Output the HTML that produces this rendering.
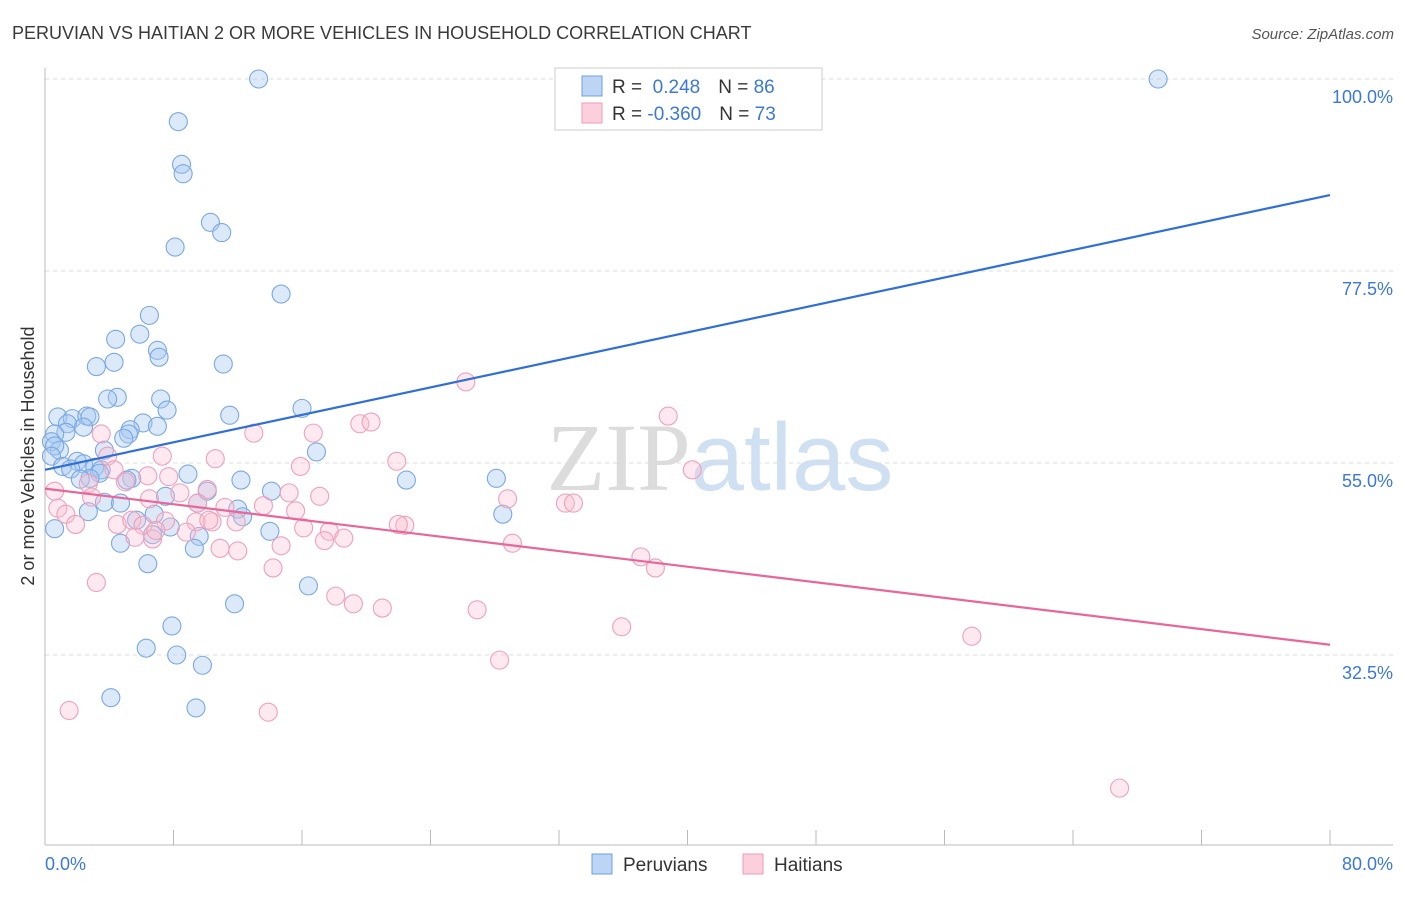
<!DOCTYPE html>
<html><head><meta charset="utf-8"><style>
body{margin:0;background:#fff;font-family:"Liberation Sans",sans-serif;}
svg text{font-family:"Liberation Sans",sans-serif;}
</style></head><body>
<svg id="chart" width="1406" height="892" xmlns="http://www.w3.org/2000/svg">
<text x="12" y="39" font-size="18" fill="#3a3a3a">PERUVIAN VS HAITIAN 2 OR MORE VEHICLES IN HOUSEHOLD CORRELATION CHART</text>
<text x="1394" y="39" font-size="15" fill="#555" text-anchor="end" font-style="italic">Source: ZipAtlas.com</text>
<text x="720" y="490" font-size="96" text-anchor="middle" fill="#e4e4e4"><tspan font-family="Liberation Serif" fill="#dcdcdc">ZIP</tspan><tspan fill="#cfe0f3">atlas</tspan></text>
<g id="grid"></g>
<line x1="45" y1="68" x2="45" y2="845" stroke="#bbb"/>
<line x1="45" y1="845" x2="1393" y2="845" stroke="#bbb"/>
<text transform="translate(34,456) rotate(-90)" font-size="18" fill="#333" text-anchor="middle">2 or more Vehicles in Household</text>
<text x="45" y="870" font-size="18" fill="#3b78d8">0.0%</text>
<text x="1393" y="870" font-size="18" fill="#3b78d8" text-anchor="end">80.0%</text>
<g id="points"></g>
<g id="lines"></g>
<g>
<rect x="555" y="68" width="267" height="62" fill="#fff" stroke="#ccc"/>
<rect x="582" y="76" width="20" height="20" fill="#bcd5f5" stroke="#6fa0e0"/>
<rect x="582" y="103" width="20" height="20" fill="#fbd0dc" stroke="#f09ab5"/>
<text x="612" y="93" font-size="19" fill="#333">R = <tspan fill="#3b78d8">&#160;0.248</tspan><tspan dx="18">N = </tspan><tspan fill="#3b78d8">86</tspan></text>
<text x="612" y="120" font-size="19" fill="#333">R = <tspan fill="#3b78d8">-0.360</tspan><tspan dx="18">N = </tspan><tspan fill="#3b78d8">73</tspan></text>
</g>
<g>
<rect x="592" y="854" width="20" height="20" fill="#bcd5f5" stroke="#6fa0e0"/>
<text x="623" y="871" font-size="19" fill="#333">Peruvians</text>
<rect x="743" y="854" width="20" height="20" fill="#fbd0dc" stroke="#f09ab5"/>
<text x="774" y="871" font-size="19" fill="#333">Haitians</text>
</g>
</svg>
<script>
const yTicks=[100,77.5,55,32.5];
const yTickLabels=["100.0%","77.5%","55.0%","32.5%"];
const xTicks=[0,8,16,24,32,40,48,56,64,72,80];
const peruX=[13.3,69.3,8.3,8.5,8.6,10.3,11.0,8.1,14.7,6.5,5.9,4.4,7.0,7.1,3.2,4.3,11.1,4.5,3.9,7.2,7.6,16.0,11.5,0.8,1.7,2.6,2.8,1.4,6.1,7.0,5.3,5.2,4.9,2.4,1.3,0.6,0.4,0.9,0.6,0.4,3.7,16.9,2.0,2.4,1.1,1.6,3.1,3.5,3.4,2.8,2.2,5.4,5.1,8.9,12.2,22.5,28.1,14.1,10.1,7.5,3.7,4.7,9.5,2.7,6.8,12.0,12.3,5.7,7.8,9.6,14.0,28.5,0.6,6.7,4.7,9.3,6.4,16.4,11.8,7.9,6.3,8.2,9.8,4.1,9.4];
const peruY=[100,100,95.0,90.0,88.9,83.2,82.0,80.3,74.8,72.3,70.1,69.5,68.2,67.4,66.3,66.8,66.6,62.7,62.5,62.5,61.2,61.4,60.6,60.4,60.2,60.5,60.4,59.6,59.7,59.3,58.9,58.4,57.9,59.2,58.6,58.4,57.5,56.5,57.0,55.8,56.5,56.3,55.2,54.9,54.6,54.3,54.5,54.2,53.8,53.2,53.1,53.2,53.0,53.7,53.0,53.0,53.2,51.7,51.7,51.1,50.4,50.3,50.3,49.3,49.0,49.6,48.7,48.3,47.5,46.4,47.0,49.0,47.3,46.6,45.6,45.0,43.2,40.6,38.5,35.9,33.3,32.5,31.3,27.5,26.3];
const haitiX=[26.2,38.8,19.6,20.3,13.0,16.7,3.5,10.6,7.3,3.9,21.9,15.9,40.3,4.3,6.4,7.7,0.6,2.7,5.0,2.9,6.5,10.1,8.4,15.2,17.1,28.8,32.4,32.9,0.8,1.3,13.6,9.5,11.2,10.4,15.6,1.9,4.5,5.4,6.1,7.5,9.4,10.2,11.9,16.1,17.7,22.4,22.0,8.8,5.6,6.7,6.9,18.6,17.4,29.1,10.9,12.0,14.7,37.1,38.0,14.2,3.2,18.1,19.2,21.0,26.9,35.9,57.7,28.3,1.5,13.9,66.9];
const haitiY=[64.5,60.5,59.6,59.8,58.5,58.5,58.4,55.5,55.8,55.8,55.2,54.6,54.2,54.2,53.5,53.4,51.7,52.6,52.8,51.0,50.8,51.9,51.5,51.5,51.1,50.8,50.3,50.3,49.7,49.0,50.0,50.3,49.8,48.1,49.4,47.8,47.8,48.3,47.7,48.2,48.1,48.3,48.1,47.4,47.0,47.7,47.8,46.9,46.3,46.1,47.1,46.2,45.9,45.6,45.0,44.7,45.3,44.0,42.7,42.7,41.0,39.4,38.5,38.0,37.8,35.8,34.7,31.9,26.0,25.8,16.9];
const peruTrend=[54.2,86.4];
const haitiTrend=[52.0,33.7];
const NS="http://www.w3.org/2000/svg";
const xs=v=>45+v/80*1285;
const ys=v=>79+(100-v)/22.5*192;
function mk(tag,attrs,parent){const e=document.createElementNS(NS,tag);for(const k in attrs)e.setAttribute(k,attrs[k]);parent.appendChild(e);return e;}
const grid=document.getElementById('grid');
yTicks.forEach((t,i)=>{
  const l=mk('line',{x1:45,x2:1393,y1:ys(t),y2:ys(t),stroke:'#ddd','stroke-dasharray':'4,4'},grid);
  
  
  const tx=mk('text',{x:1393,y:ys(t)+24,'font-size':18,fill:'#3b78d8','text-anchor':'end'},grid);
  tx.textContent=yTickLabels[i];
  
  
});
xTicks.forEach(t=>{
  const l=mk('line',{x1:xs(t),x2:xs(t),y1:830,y2:845,stroke:'#bbb'},grid);
  
  
});
const pts=document.getElementById('points');
peruX.forEach((x,i)=>{
  const c=mk('circle',{cx:xs(x),cy:ys(peruY[i]),r:9,fill:'rgba(168,200,240,0.4)',stroke:'#7aa8e4','stroke-width':1.1},pts);
  
  
});
haitiX.forEach((x,i)=>{
  const c=mk('circle',{cx:xs(x),cy:ys(haitiY[i]),r:9,fill:'rgba(248,192,210,0.35)',stroke:'#f0a0bb','stroke-width':1.1},pts);
  
  
});
const lines=document.getElementById('lines');
const bl=mk('line',{x1:xs(0),y1:ys(peruTrend[0]),x2:xs(80),y2:ys(peruTrend[1]),stroke:'#2f6fd6','stroke-width':2.2},lines);


const pl=mk('line',{x1:xs(0),y1:ys(haitiTrend[0]),x2:xs(80),y2:ys(haitiTrend[1]),stroke:'#e8669a','stroke-width':2.2},lines);


</script>
</body></html>
